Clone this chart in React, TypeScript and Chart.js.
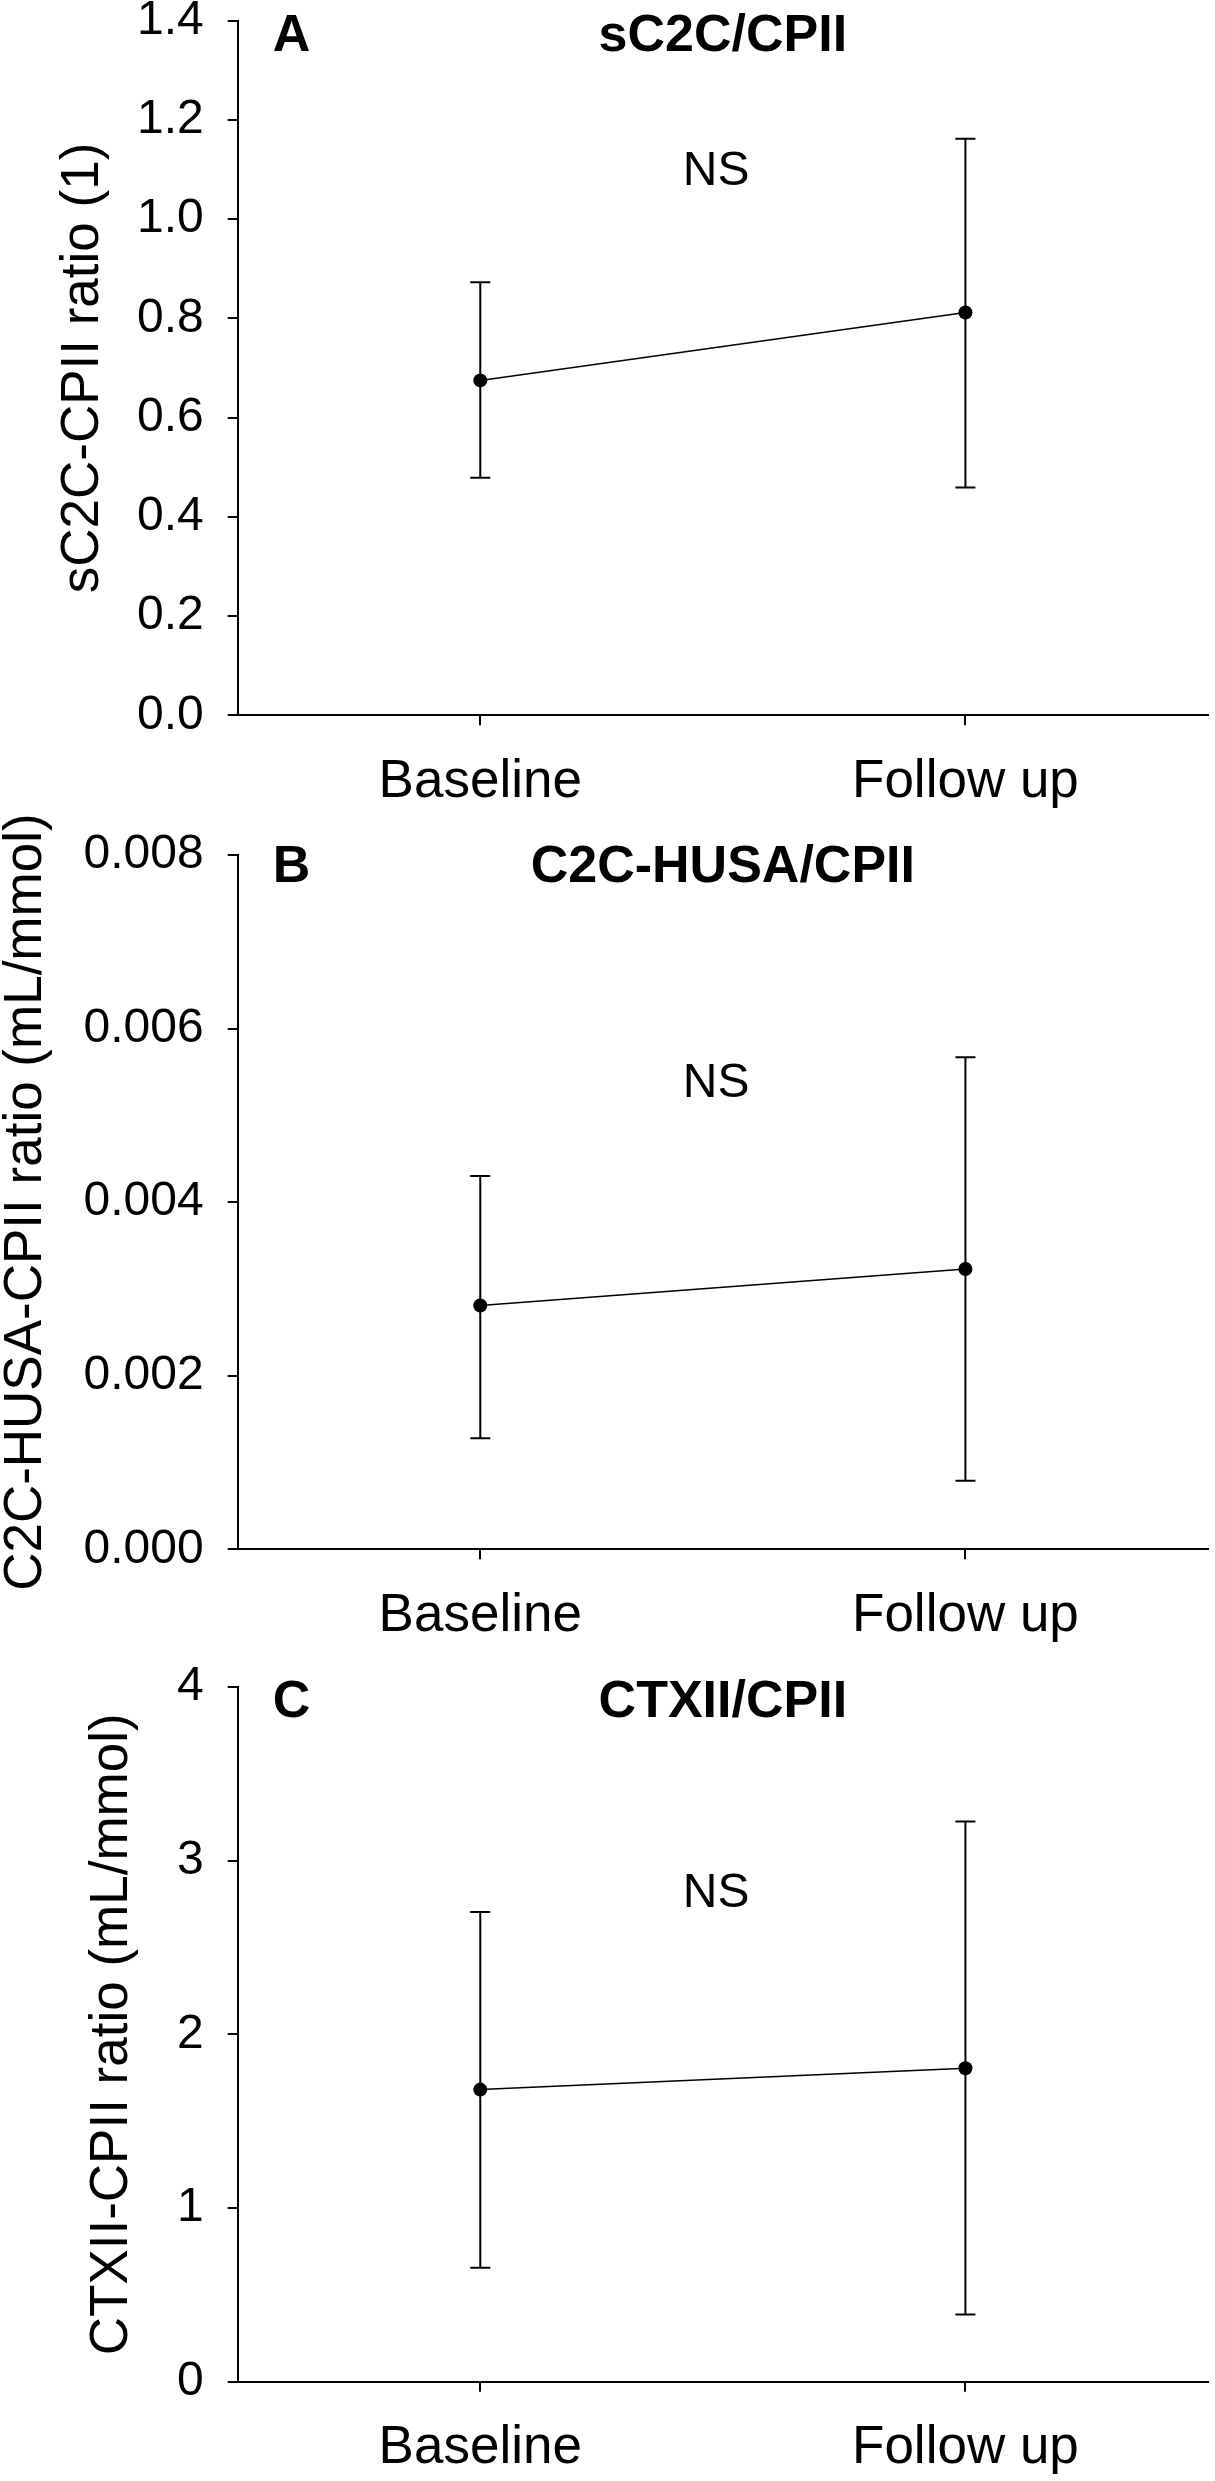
import React, { useEffect, useRef } from 'react';
import { Chart, registerables } from 'chart.js';

Chart.register(...registerables);

if (typeof document !== 'undefined') {
  document.body.style.margin = '0';
  document.body.style.overflow = 'hidden';
}

const FONT = 'Arial, "Liberation Sans", Helvetica, sans-serif';

// ---- data ----
const categories = ['Baseline', 'Follow up'];

const sc2cMean = [0.675, 0.812];
const sc2cLower = [0.479, 0.459];
const sc2cUpper = [0.873, 1.162];
const sc2cTicks = [0, 0.2, 0.4, 0.6, 0.8, 1.0, 1.2, 1.4];

const husaMean = [0.00281, 0.00323];
const husaLower = [0.00128, 0.00079];
const husaUpper = [0.0043, 0.00567];
const husaTicks = [0, 0.002, 0.004, 0.006, 0.008];

const ctxMean = [1.682, 1.805];
const ctxLower = [0.656, 0.387];
const ctxUpper = [2.704, 3.226];
const ctxTicks = [0, 1, 2, 3, 4];

const panelLetters = ['A', 'B', 'C'];
const panelTitles = ['sC2C/CPII', 'C2C-HUSA/CPII', 'CTXII/CPII'];
const yTitles = ['sC2C-CPII ratio (1)', 'C2C-HUSA-CPII ratio (mL/mmol)', 'CTXII-CPII ratio (mL/mmol)'];
const significance = ['NS', 'NS', 'NS'];
const significanceAt = [1.095, 0.00536, 2.81];

type PanelCfg = {
  letter: string;
  title: string;
  yTitle: string;
  mean: number[];
  lower: number[];
  upper: number[];
  ticks: number[];
  decimals: number;
  sig: string;
  sigAt: number;
  top: number;
  height: number;
  padTop: number;
  plotBottom: number;
  yTitlePad: number;
  letterBase: number;
};

const panels: PanelCfg[] = [
  {
    letter: panelLetters[0], title: panelTitles[0], yTitle: yTitles[0],
    mean: sc2cMean, lower: sc2cLower, upper: sc2cUpper, ticks: sc2cTicks, decimals: 1,
    sig: significance[0], sigAt: significanceAt[0],
    top: 0, height: 834, padTop: 20.7, plotBottom: 715.3, yTitlePad: 57, letterBase: 30,
  },
  {
    letter: panelLetters[1], title: panelTitles[1], yTitle: yTitles[1],
    mean: husaMean, lower: husaLower, upper: husaUpper, ticks: husaTicks, decimals: 3,
    sig: significance[1], sigAt: significanceAt[1],
    top: 760, height: 907, padTop: 95, plotBottom: 789.3, yTitlePad: 0, letterBase: 27,
  },
  {
    letter: panelLetters[2], title: panelTitles[2], yTitle: yTitles[2],
    mean: ctxMean, lower: ctxLower, upper: ctxUpper, ticks: ctxTicks, decimals: 0,
    sig: significance[2], sigAt: significanceAt[2],
    top: 1600, height: 881, padTop: 87, plotBottom: 781.7, yTitlePad: 86, letterBase: 30,
  },
];

function Panel({ cfg }: { cfg: PanelCfg }) {
  const ref = useRef<HTMLCanvasElement>(null);

  useEffect(() => {
    if (!ref.current) return;

    const errorBars = {
      id: 'errorBars',
      beforeDatasetsDraw(chart: any) {
        const { ctx } = chart;
        const xs = chart.scales.x;
        const ys = chart.scales.y;
        ctx.save();
        ctx.strokeStyle = '#000';
        ctx.lineWidth = 2;
        cfg.mean.forEach((_, i) => {
          const x = xs.getPixelForValue(i);
          const yLo = ys.getPixelForValue(cfg.lower[i]);
          const yHi = ys.getPixelForValue(cfg.upper[i]);
          ctx.beginPath();
          ctx.moveTo(x, yLo);
          ctx.lineTo(x, yHi);
          ctx.moveTo(x - 10, yLo);
          ctx.lineTo(x + 10, yLo);
          ctx.moveTo(x - 10, yHi);
          ctx.lineTo(x + 10, yHi);
          ctx.stroke();
        });
        ctx.restore();
      },
    };

    const annotations = {
      id: 'annotations',
      afterDraw(chart: any) {
        const { ctx, chartArea } = chart;
        const xs = chart.scales.x;
        const ys = chart.scales.y;
        ctx.save();
        ctx.fillStyle = '#000';
        ctx.font = `bold 52px ${FONT}`;
        ctx.textBaseline = 'alphabetic';
        ctx.textAlign = 'left';
        ctx.fillText(cfg.letter, chartArea.left + 35, chartArea.top + cfg.letterBase);
        ctx.textAlign = 'center';
        ctx.fillText(cfg.title, (chartArea.left + chartArea.right) / 2, chartArea.top + cfg.letterBase);
        ctx.font = `48px ${FONT}`;
        ctx.textBaseline = 'middle';
        const x0 = xs.getPixelForValue(0);
        const x1 = xs.getPixelForValue(1);
        ctx.fillText(cfg.sig, x0 + (x1 - x0) * 0.486, ys.getPixelForValue(cfg.sigAt));
        ctx.restore();
      },
    };

    const chart = new Chart(ref.current, {
      type: 'line',
      data: {
        labels: categories,
        datasets: [
          {
            data: cfg.mean,
            borderColor: '#000',
            borderWidth: 1.5,
            pointRadius: 7,
            pointBackgroundColor: '#000',
            pointBorderColor: '#000',
            pointBorderWidth: 0,
            tension: 0,
            clip: false as any,
          },
        ],
      },
      options: {
        animation: false,
        responsive: true,
        maintainAspectRatio: false,
        layout: { padding: { top: cfg.padTop, right: 5, bottom: 0, left: 0 } },
        plugins: {
          legend: { display: false },
          tooltip: { enabled: false },
        },
        scales: {
          x: {
            type: 'category',
            offset: true,
            grid: {
              display: true,
              drawOnChartArea: false,
              drawTicks: true,
              tickLength: 10,
              color: '#000',
              lineWidth: 2,
              offset: false,
            },
            border: { display: true, color: '#000', width: 2 },
            ticks: {
              color: '#000',
              font: { family: FONT, size: 53 },
              padding: 25,
              maxRotation: 0,
              autoSkip: false,
            },
            afterFit(scale: any) {
              scale.height = cfg.height - cfg.plotBottom;
            },
          },
          y: {
            type: 'linear',
            min: cfg.ticks[0],
            max: cfg.ticks[cfg.ticks.length - 1],
            grid: {
              display: true,
              drawOnChartArea: false,
              drawTicks: true,
              tickLength: 10,
              color: '#000',
              lineWidth: 2,
            },
            border: { display: true, color: '#000', width: 2 },
            afterBuildTicks(scale: any) {
              scale.ticks = cfg.ticks.map((v) => ({ value: v }));
            },
            ticks: {
              color: '#000',
              font: { family: FONT, size: 48 },
              padding: 24,
              autoSkip: false,
              callback: (v: any) => Number(v).toFixed(cfg.decimals),
            },
            title: {
              display: true,
              text: cfg.yTitle,
              color: '#000',
              font: { family: FONT, size: 53, lineHeight: 1 },
              padding: { top: cfg.yTitlePad, bottom: 0 },
            },
            afterFit(scale: any) {
              scale.width = 237.7;
              scale.paddingTop = 0;
              scale.paddingBottom = 0;
            },
          },
        },
      },
      plugins: [errorBars, annotations],
    } as any);

    return () => chart.destroy();
  }, [cfg]);

  return (
    <div style={{ position: 'absolute', left: 0, top: cfg.top, width: 1215, height: cfg.height }}>
      <canvas ref={ref} />
    </div>
  );
}

export default function App() {
  return (
    <div style={{ position: 'relative', width: 1215, height: 2481, background: '#fff' }}>
      {panels.map((p) => (
        <Panel key={p.letter} cfg={p} />
      ))}
    </div>
  );
}
